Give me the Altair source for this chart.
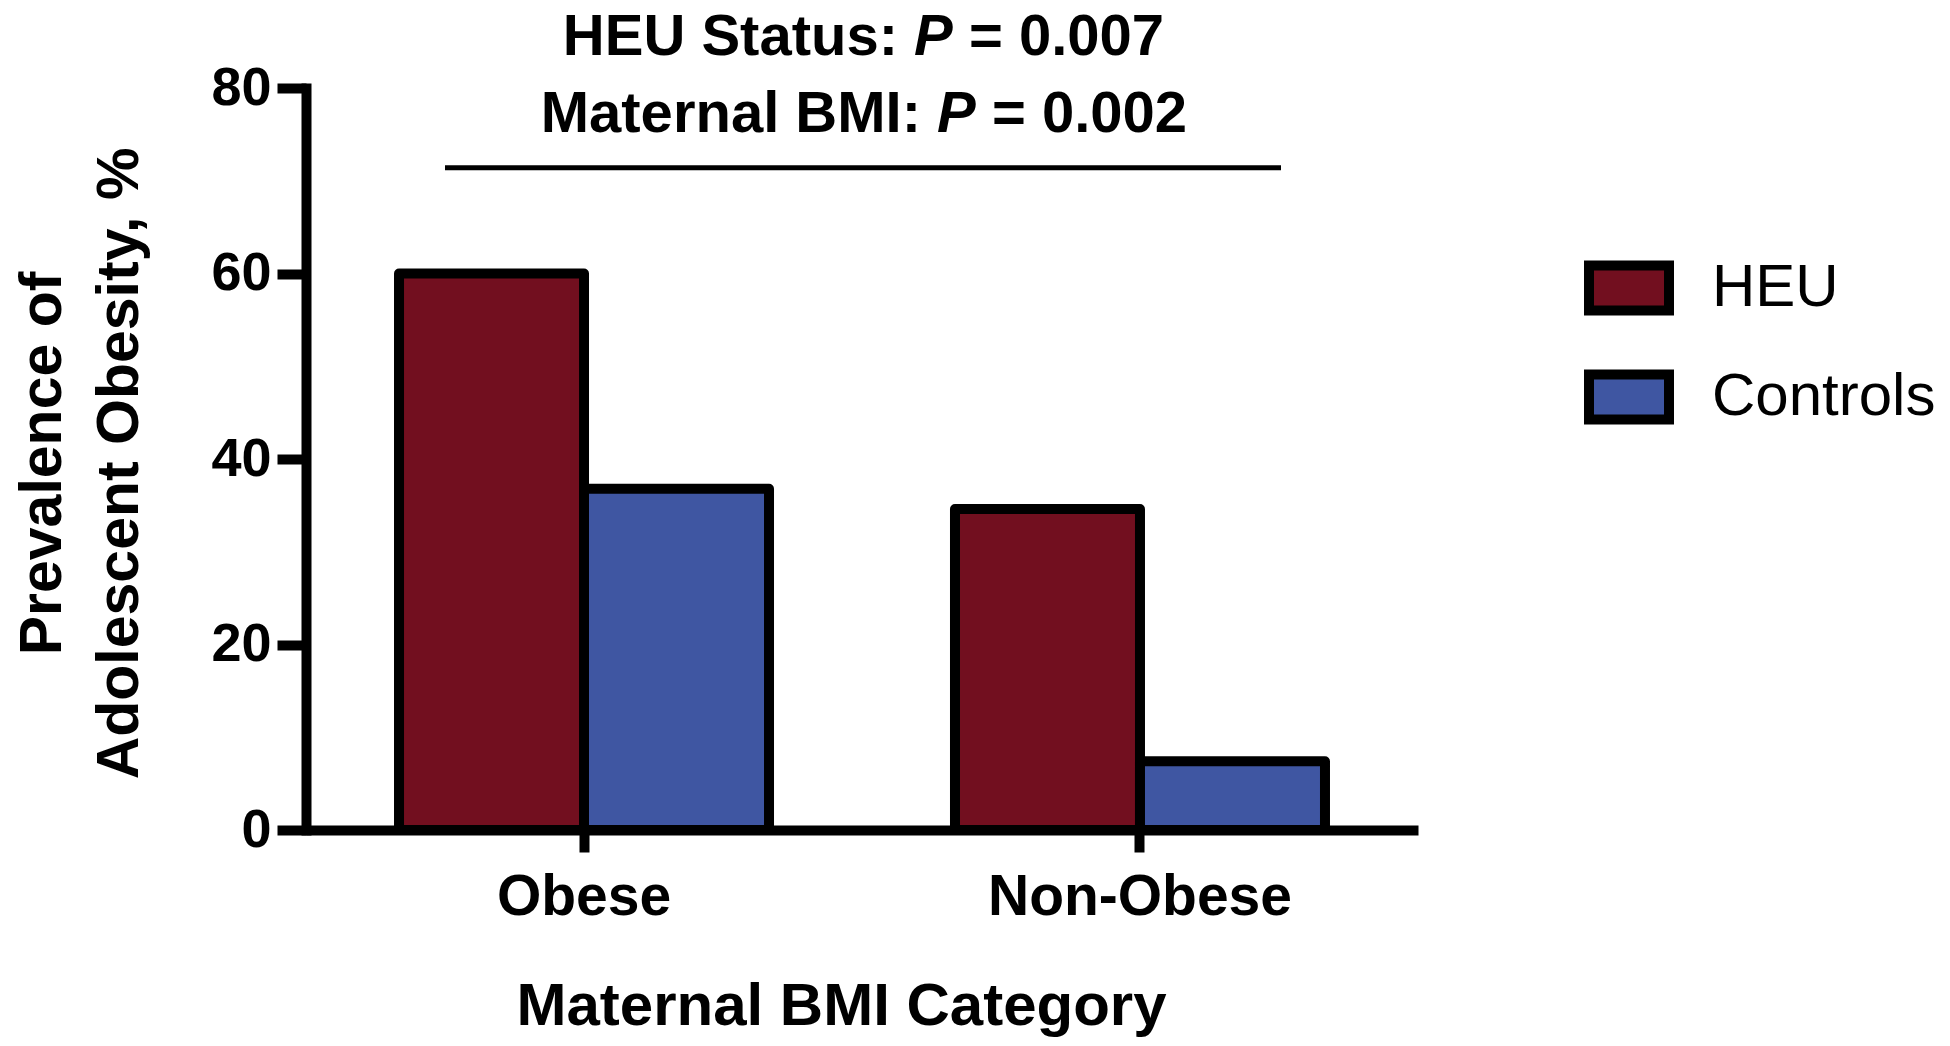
import altair as alt
import pandas as pd

categories = ["Obese", "Non-Obese"]
groups = ["HEU", "Controls"]
heu_values = [60.0, 34.6]
control_values = [36.8, 7.4]
colors = ["#720F1F", "#3F56A2"]
y_ticks = [0, 20, 40, 60, 80]
sig_level = [71.4]
title_line1 = ["HEU Status:", "P", "= 0.007"]
title_line2 = ["Maternal BMI:", "P", "= 0.002"]
y_title = ["Prevalence of", "Adolescent Obesity, %"]
x_title = "Maternal BMI Category"

rows = []
for i, c in enumerate(categories):
    rows.append({"cat": c, "group": groups[0], "value": heu_values[i]})
    rows.append({"cat": c, "group": groups[1], "value": control_values[i]})
df = pd.DataFrame(rows)

FONT = "Liberation Sans"

bars = alt.Chart(df).mark_bar(
    stroke="black", strokeWidth=10, strokeJoin="round", opacity=1
).encode(
    x=alt.X("cat:N", sort=categories,
            scale=alt.Scale(paddingInner=0.3345, paddingOuter=0.1673),
            axis=alt.Axis(title=x_title, labelAngle=0, tickSize=22, labelPadding=62,
                          labelBaseline="alphabetic", labelFontSize=57, labelFontWeight="bold",
                          labelLimit=0,
                          titleFontSize=60, titleFontWeight="bold", titleX=535, titleY=194,
                          titleBaseline="alphabetic", titleAlign="center", domainCap="butt")),
    xOffset=alt.XOffset("group:N", sort=groups, scale=alt.Scale(paddingInner=0, paddingOuter=0)),
    y=alt.Y("value:Q", scale=alt.Scale(domain=[0, 80], nice=False, zero=True),
            axis=alt.Axis(values=y_ticks, title=y_title, tickSize=29, labelPadding=6,
                          labelFontSize=54, labelFontWeight="bold", domainCap="square",
                          titleFontSize=59, titleFontWeight="bold", titleAngle=270,
                          titleAlign="center", titleBaseline="alphabetic",
                          titleX=-246, titleY=375, titleLineHeight=77, titleLimit=0)),
    color=alt.Color("group:N", sort=groups,
                    scale=alt.Scale(domain=groups, range=colors),
                    legend=alt.Legend(title=None, orient="none", legendX=1278, legendY=155,
                                      symbolType="M-1,-0.5625H1V0.5625H-1Z", symbolSize=6400,
                                      symbolStrokeColor="black", symbolStrokeWidth=10,
                                      symbolOpacity=1, labelFont=FONT, labelFontSize=60,
                                      labelOffset=38, rowPadding=21, padding=0,
                                      labelLimit=0, labelColor="black")),
)

rule = alt.Chart(pd.DataFrame({"value": sig_level})).mark_rule(
    color="black", strokeWidth=5
).encode(y="value:Q", x=alt.value(139), x2=alt.value(975))


def seg(text, x, y, align, italic=False):
    return alt.Chart(pd.DataFrame({"t": [text]})).mark_text(
        font=FONT, fontSize=58, fontWeight="bold",
        fontStyle="italic" if italic else "normal",
        align=align, baseline="alphabetic", color="black"
    ).encode(x=alt.value(x), y=alt.value(y), text="t:N")


texts = [
    seg(title_line1[0], 592, -33, "right"),
    seg(title_line1[1], 608, -33, "left", italic=True),
    seg(title_line1[2], 663, -33, "left"),
    seg(title_line2[0], 615, 44, "right"),
    seg(title_line2[1], 631, 44, "left", italic=True),
    seg(title_line2[2], 686, 44, "left"),
]

chart = alt.layer(bars, rule, *texts).properties(
    width=1112, height=742,
    padding={"left": 298, "top": 80, "right": 524, "bottom": 208},
    autosize=alt.AutoSizeParams(type="none"),
).configure_axis(
    domainColor="black", domainWidth=10, tickColor="black", tickWidth=10,
    labelColor="black", titleColor="black", labelFont=FONT, titleFont=FONT, grid=False,
).configure_view(stroke=None)

chart.save("out.html", embed_options={"renderer": "svg", "actions": False})
